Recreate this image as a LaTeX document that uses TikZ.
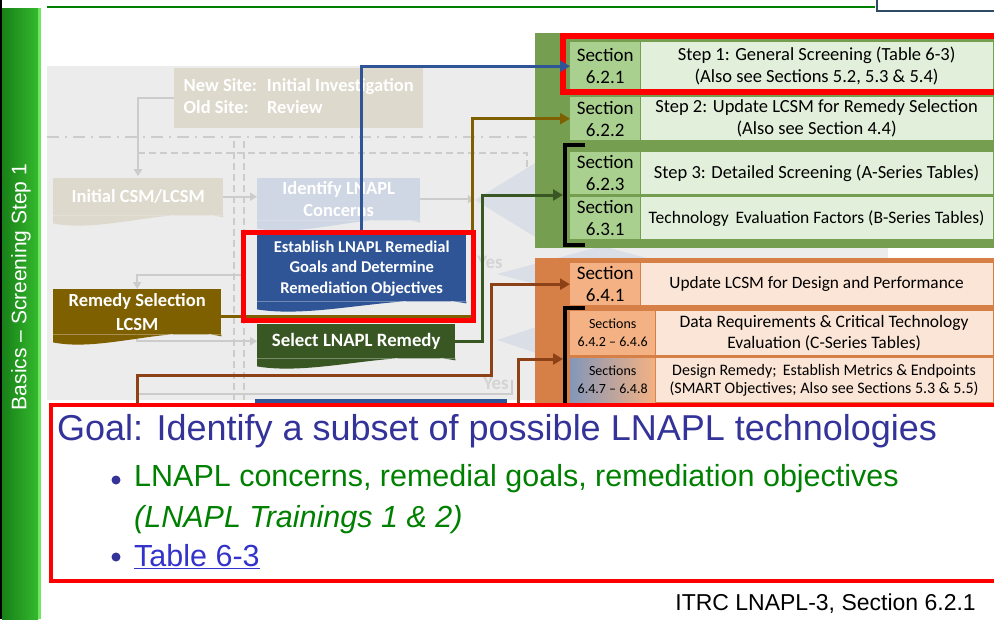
\documentclass[tikz,border=0pt]{standalone}
\usepackage{fontspec}
\setmainfont{Liberation Sans}
\newfontfamily\calibri{Carlito}
\usepackage{tikz}
\usetikzlibrary{arrows.meta}
\usetikzlibrary{positioning}
\usetikzlibrary{calc}
\usetikzlibrary{shapes.geometric}

\definecolor{barDark}{RGB}{24,128,24}
\definecolor{barLight}{RGB}{52,185,45}
\definecolor{barRim}{RGB}{110,230,95}
\definecolor{ruleGreen}{RGB}{0,128,0}
\definecolor{logoEdge}{RGB}{45,75,100}
\definecolor{fadeBg}{RGB}{236,236,236}
\definecolor{fadeTan}{RGB}{221,217,204}
\definecolor{fadeBlue}{RGB}{207,214,228}
\definecolor{fadeShape}{RGB}{218,222,230}
\definecolor{fadeLine}{RGB}{204,204,204}
\definecolor{fadeText}{RGB}{212,212,212}
\definecolor{estBlue}{RGB}{47,85,151}
\definecolor{lcsmOlive}{RGB}{127,96,0}
\definecolor{remGreen}{RGB}{56,87,35}
\definecolor{linkBrown}{RGB}{140,66,22}
\definecolor{panelGreen}{RGB}{118,158,80}
\definecolor{secGreen}{RGB}{169,208,142}
\definecolor{txtGreen}{RGB}{226,239,218}
\definecolor{panelOrange}{RGB}{214,128,72}
\definecolor{secOrange}{RGB}{244,177,131}
\definecolor{txtOrange}{RGB}{251,229,214}
\definecolor{secSlate}{RGB}{132,151,184}
\definecolor{goalBlue}{RGB}{51,51,153}
\definecolor{bulletGreen}{RGB}{0,128,0}
\definecolor{linkBlue}{RGB}{51,51,204}

% wavy "document" bottom under a flow box
\newcommand{\wavebase}[2]{%
  \fill[#2] (#1.south west) -- ++(0,8)
    .. controls ($(#1.south west)!0.3!(#1.south east)+(0,18)$)
    and ($(#1.south west)!0.7!(#1.south east)+(0,-10)$)
    .. ($(#1.south east)+(0,2)$) -- (#1.south east) -- cycle;}

\tikzset{
fadebox/.style={
	rectangle,
	anchor=north west,
	inner sep=2pt,
	text centered,
	align=center,
	text=white,
	font=\calibri\bfseries\fontsize{18.5}{22}\selectfont
},
flowbox/.style={
	rectangle,
	anchor=north west,
	inner sep=2pt,
	text centered,
	align=center,
	text=white,
	font=\calibri\bfseries\fontsize{18.5}{24}\selectfont
},
fadeq/.style={
	diamond,
	fill=fadeShape,
	inner sep=0pt
},
seccell/.style={
	rectangle,
	anchor=north west,
	inner sep=0pt,
	text centered,
	align=center,
	text=black,
	font=\calibri\fontsize{19}{22}\selectfont
},
txtcell/.style={
	rectangle,
	inner sep=0pt,
	text centered,
	align=center,
	text=black,
	font=\calibri\fontsize{18.5}{22}\selectfont
},
arrow/.style={
	line width=3pt,
	-{Triangle[length=10pt,width=11pt]}
},
fadearrow/.style={
	draw=fadeLine,
	line width=2pt,
	-{Triangle[length=7pt,width=8pt]}
},
bracket/.style={
	draw=black,
	line width=3.5pt
},
redframe/.style={
	draw=red,
	line width=5.5pt
},
goaltext/.style={
	anchor=west,
	inner sep=0pt,
	text=goalBlue,
	font=\rmfamily\fontsize{36}{40}\selectfont
},
bullettext/.style={
	anchor=west,
	inner sep=0pt,
	text=bulletGreen,
	font=\rmfamily\fontsize{30.5}{36}\selectfont
},
dotmark/.style={
	circle,
	fill=goalBlue,
	minimum size=9pt,
	inner sep=0pt
}
}

\begin{document}
\begin{tikzpicture}[x=1pt, y=-1pt]
\clip (0,0) rectangle (994,619);
% ===== Slide frame =====
\fill[white] (0,0) rectangle (994,619);
\fill[black] (0,0) rectangle (2,619);
\shade[left color=barDark, right color=barLight] (2,8) rectangle (38,619);
\fill[barRim] (38,8) rectangle (41,619);
\node (sidebar) [rotate=90, text=white, font=\rmfamily\fontsize{21}{21}\selectfont] at (21,287) {Basics – Screening Step 1};
\draw[ruleGreen, line width=2pt] (47,7) -- (875,7);
\node (logo) [draw=logoEdge, line width=2pt, fill=white, anchor=north west, minimum width=130pt, minimum height=16pt] at (876,-6) {};

% ===== Faded flow chart behind the tables =====
\fill[fadeBg] (47,66) rectangle (888,400);
\draw[fadeLine, line width=1.5pt, dash pattern=on 12pt off 6pt on 2pt off 6pt] (47,137) -- (535,137);
\draw[fadeLine, line width=1.5pt, dash pattern=on 7pt off 4pt] (138,153) -- (527,153) -- (527,176);
\draw[fadeLine, line width=1.5pt, dash pattern=on 7pt off 4pt] (234,141) -- (234,400);
\draw[fadeLine, line width=1.5pt, dash pattern=on 7pt off 4pt] (244,141) -- (244,400);

\node (site)    [fadebox, fill=fadeTan, minimum width=249pt, minimum height=60pt] at (174,68)
  {\begin{tabular}{@{}l@{\hspace{10pt}}l@{}}New Site: & Initial Investigation\\Old Site: & Review\end{tabular}};
\node (csm)     [fadebox, fill=fadeTan, minimum width=170pt, minimum height=37pt] at (53,178) {Initial CSM/LCSM};
\wavebase{csm}{fadeTan}
\node (concern) [fadebox, fill=fadeBlue, minimum width=163pt, minimum height=42pt] at (257,178) {Identify LNAPL\\Concerns};
\wavebase{concern}{fadeBlue}
\node (fadeq1) [fadeq, minimum width=130pt, minimum height=80pt] at (540,200) {};
\node (fadeq2) [fadeq, minimum width=210pt, minimum height=56pt] at (602,274) {};
\node (fadeq3) [fadeq, minimum width=150pt, minimum height=50pt] at (572,340) {};
\coordinate (fadeL) at (244,275);

\draw[fadearrow] (site.west) -- ++(-36,0) -- ++(0,78);
\draw[fadearrow] (csm.east) -- (csm.east -| concern.west);
\draw[fadearrow] (concern.east) -- (concern.east -| fadeq1.west);
\draw[fadeLine, line width=2pt] (138,394) -- (512,394) -- (512,380);
\node (yes1) [text=fadeText, font=\calibri\bfseries\fontsize{19}{19}\selectfont] at (490,262) {Yes};
\node (yes2) [text=fadeText, font=\calibri\bfseries\fontsize{19}{19}\selectfont] at (496,383) {Yes};

% ===== Flow boxes in colour =====
\node (lcsm) [flowbox, fill=lcsmOlive, minimum width=168pt, minimum height=45pt] at (53,289) {Remedy Selection\\LCSM};
\node (est)  [flowbox, fill=estBlue, minimum width=209pt, minimum height=66pt,
              font=\calibri\bfseries\fontsize{16.5}{20.5}\selectfont] at (257,235)
  {Establish LNAPL Remedial\\Goals and Determine\\Remediation Objectives};
\node (sel)  [flowbox, fill=remGreen, minimum width=198pt, minimum height=34pt,
              font=\calibri\bfseries\fontsize{18.8}{20}\selectfont] at (257,324) {Select LNAPL Remedy};
\draw[fadearrow] (fadeL) -| (lcsm.north);
\draw[fadearrow] (lcsm.south) |- (sel.west);
\wavebase{lcsm}{lcsmOlive}
\wavebase{est}{estBlue}
\wavebase{sel}{remGreen}
\fill[estBlue] (255,399) rectangle (507,412);

% ===== Green panel: screening steps =====
\fill[panelGreen] (535,33) rectangle (1000,248);
\node (sec621) [seccell, fill=secGreen, minimum width=70pt, minimum height=48pt] at (570,42) {Section\\6.2.1};
\node (step1)  [txtcell, fill=txtGreen, minimum width=352pt, minimum height=48pt, right=0pt of sec621]
  {Step 1: General Screening (Table 6-3)\\(Also see Sections 5.2, 5.3 \& 5.4)};
\node (sec622) [seccell, fill=secGreen, minimum width=70pt, minimum height=43pt] at (570,97) {Section\\6.2.2};
\node (step2)  [txtcell, fill=txtGreen, minimum width=352pt, minimum height=43pt, right=0pt of sec622]
  {Step 2: Update LCSM for Remedy Selection\\(Also see Section 4.4)};
\node (sec623) [seccell, fill=secGreen, minimum width=70pt, minimum height=42pt] at (570,152) {Section\\6.2.3};
\node (step3)  [txtcell, fill=txtGreen, minimum width=352pt, minimum height=42pt, right=0pt of sec623]
  {Step 3: Detailed Screening (A-Series Tables)};
\node (sec631) [seccell, fill=secGreen, minimum width=70pt, minimum height=42pt] at (570,197) {Section\\6.3.1};
\node (techeval) [txtcell, fill=txtGreen, minimum width=352pt, minimum height=42pt, right=0pt of sec631,
                  font=\calibri\fontsize{17.5}{22}\selectfont]
  {Technology\, Evaluation Factors (B-Series Tables)};
\draw[bracket] (585,145) -- (565,145) -- (565,245) -- (585,245);
\coordinate (brk1) at (563,195);

% ===== Orange panel: design steps =====
\fill[panelOrange] (535,258) rectangle (1000,412);
\node (sec641) [seccell, fill=secOrange, minimum width=70pt, minimum height=42pt] at (570,263) {Section\\6.4.1};
\node (lcsmdesign) [txtcell, fill=txtOrange, minimum width=352pt, minimum height=42pt, right=0pt of sec641,
                    font=\calibri\fontsize{17.3}{22}\selectfont]
  {Update LCSM for Design and Performance};
\node (sec642) [seccell, fill=secOrange, minimum width=85pt, minimum height=44pt,
                font=\calibri\fontsize{14}{18}\selectfont] at (570,311) {Sections\\6.4.2 – 6.4.6};
\node (datareq) [txtcell, fill=txtOrange, minimum width=337pt, minimum height=44pt, right=0pt of sec642,
                 font=\calibri\fontsize{17.5}{21}\selectfont]
  {Data Requirements \& Critical Technology\\Evaluation (C-Series Tables)};
\node (sec647) [seccell, left color=secSlate, right color=secOrange, minimum width=85pt, minimum height=44pt,
                font=\calibri\fontsize{14}{18}\selectfont] at (570,358) {Sections\\6.4.7 – 6.4.8};
\node (designrem) [txtcell, fill=txtOrange, minimum width=337pt, minimum height=44pt, right=0pt of sec647,
                   font=\calibri\fontsize{16}{18.5}\selectfont]
  {Design Remedy;\, Establish Metrics \& Endpoints\\(SMART Objectives; Also see Sections 5.3 \& 5.5)};
\draw[bracket] (585,308) -- (565,308) -- (565,412);
\coordinate (brk2) at (563,359);

% ===== Connectors into the tables =====
\draw[redframe] (563,36) rectangle (1000,92);
\coordinate (bot1) at (137,412);
\coordinate (bot2) at (518,412);
\draw[arrow, estBlue]   (est.north) |- (sec621.west);
\draw[arrow, lcsmOlive] ([yshift=-5pt]lcsm.east) -- ++(251,0) |- (sec622.west);
\draw[arrow, remGreen]  (sel.east) -- ++(27,0) |- (brk1);
\draw[arrow, linkBrown] (bot1) -- ++(0,-37) -- ++(354,0) |- (sec641.west);
\draw[arrow, linkBrown] (bot2) |- (brk2);
\draw[redframe] (243.5,232.5) rectangle (473.5,320.5);

% ===== Goal statement =====
\node (goalbox) [draw=red, line width=4pt, fill=white, anchor=north west,
                 minimum width=960pt, minimum height=176pt] at (49,403) {};
\node (goal)      [goaltext] at (57,431) {Goal: Identify a subset of possible LNAPL technologies};
\node (dot1)      [dotmark] at (116,480) {};
\node (concerns)  [bullettext] at (134,479) {LNAPL concerns, remedial goals, remediation objectives};
\node (trainings) [bullettext, font=\rmfamily\itshape\fontsize{30.5}{36}\selectfont] at (134,520) {(LNAPL Trainings 1 \& 2)};
\node (dot2)      [dotmark] at (116,557) {};
\node (table63)   [bullettext, text=linkBlue] at (134,557) {\underline{Table 6-3}};
\node (source)    [anchor=east, inner sep=0pt, font=\rmfamily\fontsize{23}{23}\selectfont] at (976,604) {ITRC LNAPL-3, Section 6.2.1};
\end{tikzpicture}
\end{document}
